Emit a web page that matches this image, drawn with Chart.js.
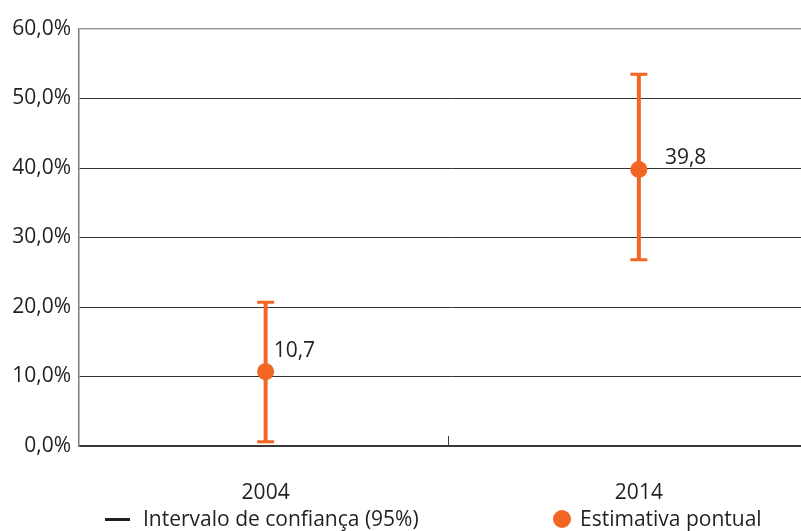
<!DOCTYPE html>
<html>
<head>
<meta charset="utf-8">
<script src="https://cdn.jsdelivr.net/npm/chart.js@4.4.1/dist/chart.umd.min.js"></script>
<style>
  body { margin: 0; background: #fff; overflow: hidden; width: 801px; height: 531px; position: relative; }
  canvas { display: block; }
  .legend { position: absolute; top: 506px; left: 0; font: 21px "Open Sans", sans-serif; color: #231F20; line-height: 25px; }
  .legend span { position: absolute; white-space: nowrap; }
  .swatch-line { position: absolute; width: 25px; height: 3px; background: #231F20; }
  .swatch-dot { position: absolute; width: 18px; height: 18px; border-radius: 50%; background: #F26522; }
</style>
</head>
<body>
<canvas id="chart" width="834" height="531"></canvas>
<div class="legend">
  <div class="swatch-line" style="left:105px; top:12px;"></div>
  <span style="left:143px; top:0;">Intervalo de confiança (95%)</span>
  <div class="swatch-dot" style="left:553px; top:4px;"></div>
  <span style="left:580px; top:0;">Estimativa pontual</span>
</div>
<script>
const years = ['2004', '2014'];
const estimate = [10.7, 39.8];
const lower = [0.6, 26.8];
const upper = [20.7, 53.5];
const yTicks = [0, 10, 20, 30, 40, 50, 60];

const orange = '#F26522';
const textColor = '#231F20';
const fontFamily = '"Open Sans", sans-serif';

// whiskers, value labels and the small middle tick on the x axis
const errorBars = {
    id: 'errorBars',
    beforeDatasetsDraw(chart) {
        const { ctx, scales: { x, y }, chartArea } = chart;
        ctx.save();
        ctx.strokeStyle = orange;
        ctx.lineCap = 'butt';
        years.forEach((yr, i) => {
            const px = x.getPixelForValue(i);
            const top = y.getPixelForValue(upper[i]);
            const bot = y.getPixelForValue(lower[i]);
            ctx.lineWidth = 4;
            ctx.beginPath();
            ctx.moveTo(px, top);
            ctx.lineTo(px, bot);
            ctx.stroke();
            ctx.lineWidth = 3;
            ctx.beginPath();
            ctx.moveTo(px - 8.5, top);
            ctx.lineTo(px + 8.5, top);
            ctx.moveTo(px - 8.5, bot);
            ctx.lineTo(px + 8.5, bot);
            ctx.stroke();
        });
        // middle tick between the two categories
        const mid = x.getPixelForValue(0.5) - 4;
        ctx.strokeStyle = '#3a3a3a';
        ctx.lineWidth = 1;
        ctx.beginPath();
        ctx.moveTo(Math.round(mid) + 0.5, chartArea.bottom);
        ctx.lineTo(Math.round(mid) + 0.5, chartArea.bottom - 10);
        ctx.stroke();
        ctx.restore();
    },
    afterDatasetsDraw(chart, args, opts) {
        const { ctx, scales: { x, y } } = chart;
        ctx.save();
        ctx.fillStyle = textColor;
        ctx.font = '21px ' + fontFamily;
        ctx.textAlign = 'left';
        ctx.textBaseline = 'middle';
        estimate.forEach((v, i) => {
            const off = opts.offsets[i];
            ctx.fillText(v.toFixed(1).replace('.', ','), x.getPixelForValue(i) + off[0], y.getPixelForValue(v) + off[1]);
        });
        ctx.restore();
    }
};

new Chart(document.getElementById('chart'), {
    type: 'line',
    data: {
        labels: years,
        datasets: [{
            label: 'Estimativa pontual',
            data: estimate,
            showLine: false,
            pointRadius: 8.5,
            pointHoverRadius: 8.5,
            pointBackgroundColor: orange,
            pointBorderWidth: 0,
        }],
    },
    options: {
        responsive: false,
        animation: false,
        layout: { padding: { top: 29, right: 0, bottom: 0, left: 0 } },
        plugins: {
            legend: { display: false },
            tooltip: { enabled: false },
            errorBars: { offsets: [[8, -21], [26, -11]] },
        },
        scales: {
            x: {
                offset: true,
                grid: { display: false },
                border: { display: true, color: '#3a3a3a', width: 1.5 },
                ticks: { color: textColor, font: { family: fontFamily, size: 21 }, padding: 26 },
                afterFit(s) { s.height = 85; },
            },
            y: {
                min: 0,
                max: 60,
                afterBuildTicks(s) { s.ticks = yTicks.map(v => ({ value: v })); },
                grid: {
                    drawTicks: false,
                    color: c => c.tick.value === 60 ? '#999' : '#333',
                    lineWidth: c => c.tick.value === 60 ? 1.5 : 1,
                },
                border: { display: true, color: '#7a7a7a', width: 1.5 },
                ticks: {
                    color: textColor,
                    font: { family: fontFamily, size: 21 },
                    padding: 8,
                    callback: v => v.toFixed(1).replace('.', ',') + '%',
                },
                afterFit(s) { s.width = 79; },
            },
        },
    },
    plugins: [errorBars],
});
</script>
</body>
</html>
